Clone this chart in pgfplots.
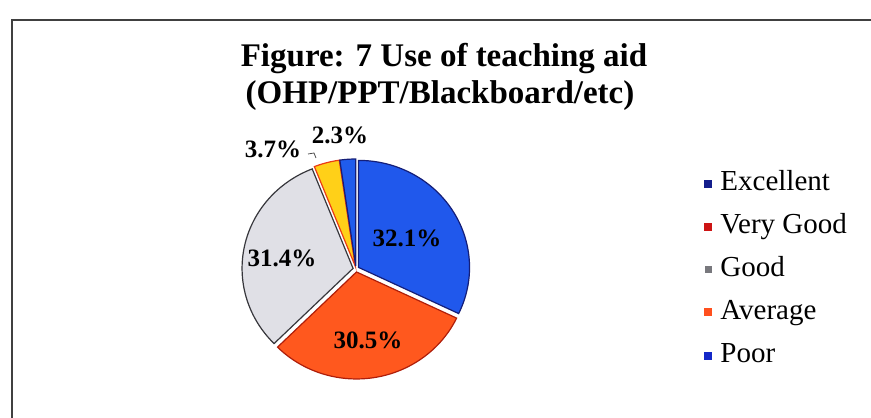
\documentclass[border=0pt]{standalone}
\usepackage{pgfplots}
\pgfplotsset{compat=1.18}
\usepackage{pgfplotstable}
\usepackage{fontspec}
\setmainfont{Liberation Serif}

\definecolor{pie0}{RGB}{32,88,236}
\definecolor{pie1}{RGB}{255,88,30}
\definecolor{pie2}{RGB}{224,224,230}
\definecolor{pie3}{RGB}{255,208,24}
\definecolor{pie4}{RGB}{32,92,236}
\definecolor{edge0}{RGB}{20,30,120}
\definecolor{edge1}{RGB}{175,30,10}
\definecolor{edge2}{RGB}{55,55,60}
\definecolor{edge3}{RGB}{235,60,20}
\definecolor{edge4}{RGB}{20,30,120}
\definecolor{legA}{RGB}{20,30,140}
\definecolor{legB}{RGB}{205,20,20}
\definecolor{legC}{RGB}{120,120,125}
\definecolor{legD}{RGB}{255,80,30}
\definecolor{legE}{RGB}{20,40,200}

\pgfplotstableread[col sep=comma]{
label,value
Excellent,32.1
Very Good,30.5
Good,31.4
Average,3.7
Poor,2.3
}\piedata

% pie geometry (pixel units, y downward negative)
\def\cx{356}\def\cy{-269}\def\Rx{111}\def\Ry{107}\def\ex{3}
\def\cum{0}
\pgfplotsforeachungrouped \i in {0,...,4}{%
  \pgfplotstablegetelem{\i}{value}\of\piedata
  \pgfmathsetmacro\sa{\cum*3.6}%
  \pgfmathsetmacro\newcum{\cum+\pgfplotsretval}%
  \pgfmathsetmacro\sb{\newcum*3.6}%
  \pgfmathsetmacro\sm{(\sa+\sb)/2}%
  \pgfmathsetmacro\ox{\cx+\ex*sin(\sm)}%
  \pgfmathsetmacro\oy{\cy+\ex*cos(\sm)}%
  \expandafter\xdef\csname ps\i\endcsname{\sa}%
  \expandafter\xdef\csname pe\i\endcsname{\sb}%
  \expandafter\xdef\csname ox\i\endcsname{\ox}%
  \expandafter\xdef\csname oy\i\endcsname{\oy}%
  \xdef\cum{\newcum}%
}

\begin{document}
\begin{tikzpicture}
\begin{axis}[
  scale only axis, width=871pt, height=418pt,
  xmin=0, xmax=871, ymin=-418, ymax=0,
  hide axis, clip=false,
  legend style={at={(axis cs:704,-169)}, anchor=north west, draw=none, fill=none,
    font=\fontsize{29}{33}\selectfont, row sep=15pt, inner sep=0pt,
    nodes={inner sep=1pt, text height=20pt, text depth=6pt}},
  legend cell align=left,
]
\addlegendimage{legend image code/.code={\fill[legA] (0pt,-3.5pt) rectangle (7pt,3.5pt); \path[draw=none] (0pt,0pt) -- (15pt,0pt);}}
\addlegendimage{legend image code/.code={\fill[legB] (0pt,-3.5pt) rectangle (7pt,3.5pt); \path[draw=none] (0pt,0pt) -- (15pt,0pt);}}
\addlegendimage{legend image code/.code={\fill[legC] (0.5pt,-3pt) rectangle (6.5pt,3pt); \path[draw=none] (0pt,0pt) -- (15pt,0pt);}}
\addlegendimage{legend image code/.code={\fill[legD] (0pt,-3.5pt) rectangle (7pt,3.5pt); \path[draw=none] (0pt,0pt) -- (15pt,0pt);}}
\addlegendimage{legend image code/.code={\fill[legE] (0pt,-3.5pt) rectangle (7pt,3.5pt); \path[draw=none] (0pt,0pt) -- (15pt,0pt);}}
\legend{Excellent, Very Good, Good, Average, Poor}

\pgfplotsinvokeforeach{0,...,4}{
  \addplot[forget plot, fill=pie#1, draw=edge#1, line width=1.2pt,
    domain=\csname ps#1\endcsname:\csname pe#1\endcsname, samples=90, variable=\t]
    ({\csname ox#1\endcsname+\Rx*sin(\t)},{\csname oy#1\endcsname+\Ry*cos(\t)})
    -- (axis cs:\csname ox#1\endcsname,\csname oy#1\endcsname) -- cycle;
}

% frame
\draw[line width=2.4pt, black!75] (axis cs:12,-418) -- (axis cs:12,-20) -- (axis cs:871,-20);

% title
\node[anchor=base, font=\fontsize{33}{36}\bfseries\selectfont] at (axis cs:444,-67) {Figure: 7 Use of teaching aid};
\node[anchor=base, font=\fontsize{33}{36}\bfseries\selectfont] at (axis cs:440,-104) {(OHP/PPT/Blackboard/etc)};

% data labels
\node[font=\fontsize{25}{28}\bfseries\selectfont] at (axis cs:407,-238) {32.1\%};
\node[font=\fontsize{25}{28}\bfseries\selectfont] at (axis cs:368,-340) {30.5\%};
\node[font=\fontsize{25}{28}\bfseries\selectfont] at (axis cs:282,-258) {31.4\%};
\node[font=\fontsize{25}{28}\bfseries\selectfont] at (axis cs:273,-149) {3.7\%};
\node[font=\fontsize{25}{28}\bfseries\selectfont] at (axis cs:340,-135) {2.3\%};
\draw[line width=0.8pt, black!70] (axis cs:308,-154) -- (axis cs:314,-153) -- (axis cs:316,-158);
\end{axis}
\pgfresetboundingbox
\path[use as bounding box] (current axis.south west) rectangle (current axis.north east);
\end{tikzpicture}
\end{document}
